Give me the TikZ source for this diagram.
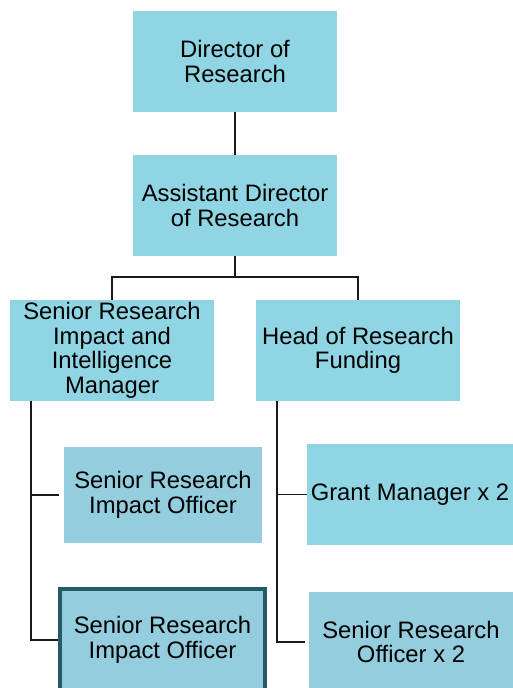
\documentclass[tikz,border=0pt]{standalone}
\usepackage{fontspec}
\setmainfont{Liberation Sans}
\usepackage{tikz}

\definecolor{boxcyan}{HTML}{8FD5E3}
\definecolor{boxblue}{HTML}{93CDDE}
\definecolor{boxedge}{HTML}{265A66}

\begin{document}
\begin{tikzpicture}[x=1pt,y=-1pt,
  role/.style={rectangle,fill=boxcyan,minimum width=204pt,minimum height=101pt,
    align=center,inner sep=0pt,font=\fontsize{23.8}{24.5}\selectfont},
  staff/.style={role,fill=boxblue},
  current/.style={staff,draw=boxedge,line width=4pt},
  link/.style={draw=black!90,line width=1.5pt}]
\useasboundingbox (0,0) rectangle (512,688);
% top of the chart
\node[role] (dir) at (235,61.5) {Director of\\Research};
\node[role] (asst) at (235,205.5) {Assistant Director\\of Research};
% second row
\node[role] (mgr) at (112,350.5) {Senior Research\\Impact and\\Intelligence\\Manager};
\node[role] (head) at (358,350.5) {Head of Research\\Funding};
% staff under the manager
\node[staff,minimum width=198pt,minimum height=96pt] (srio) at (163,495) {Senior Research\\Impact Officer};
\node[current,minimum width=205pt,minimum height=102pt] (sriob) at (162.5,640) {Senior Research\\Impact Officer};
% staff under the head of funding
\node[role,minimum width=206pt] (gm) at (410,494.5) {Grant Manager x 2};
\node[staff,minimum width=204pt] (sro) at (411,642) {Senior Research\\Officer x 2};
% connectors
\draw[link] (dir) -- (asst);
\draw[link] (asst.south) -- ++(0,21) coordinate (split);
\draw[link] (mgr.north) |- (split) -| (head.north);
\draw[link] ([xshift=21pt]mgr.south west) coordinate (ml) |- ([xshift=-5pt]srio.west);
\draw[link] (ml) |- (sriob.west);
\draw[link] ([xshift=21pt]head.south west) coordinate (hl) |- (gm.west);
\draw[link] (hl) |- ([xshift=-4pt]sro.west);
\end{tikzpicture}
\end{document}
